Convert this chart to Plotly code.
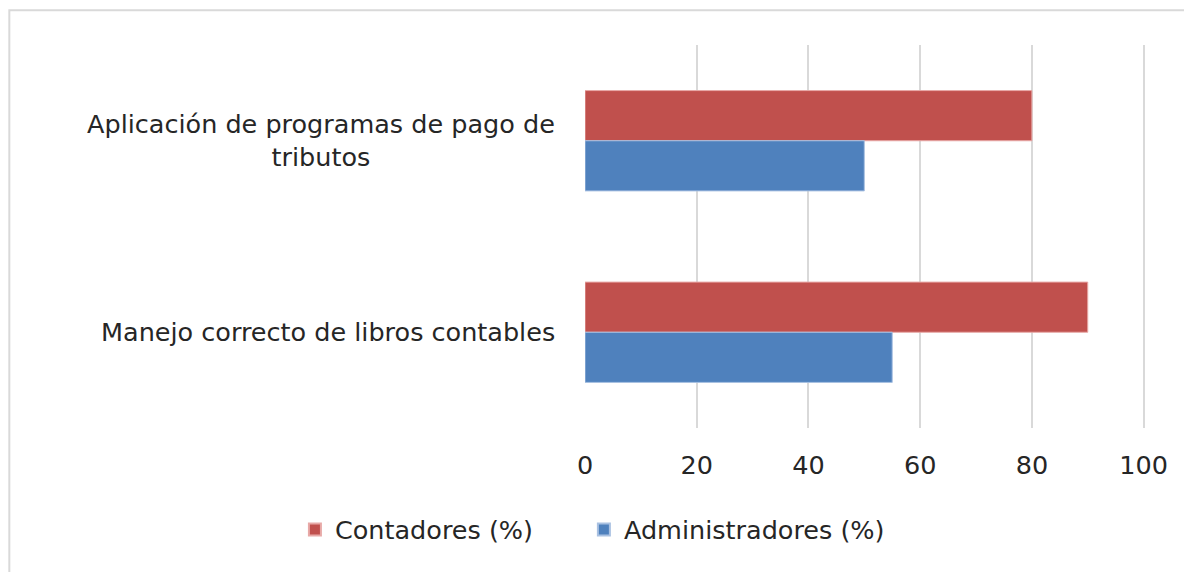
"""Horizontal grouped bar chart: Contadores vs Administradores."""

import plotly.graph_objects as go

categories = [
    "Aplicación de programas de pago de<br>tributos",
    "Manejo correcto de libros contables",
]
contadores = [80, 90]
administradores = [50, 55]
x_ticks = [0, 20, 40, 60, 80, 100]

RED = "#C0504D"
BLUE = "#4F81BD"
FONT = "DejaVu Sans"
TEXT = "#262626"
SIZE = 25.5

fig = go.Figure()
fig.add_trace(
    go.Bar(
        y=categories,
        x=contadores,
        orientation="h",
        name="Contadores (%)",
        legend="legend",
        marker=dict(color=RED, line=dict(color="#E8A9A7", width=1)),
    )
)
fig.add_trace(
    go.Bar(
        y=categories,
        x=administradores,
        orientation="h",
        name="Administradores (%)",
        legend="legend2",
        marker=dict(color=BLUE, line=dict(color="#A9C1E2", width=1)),
    )
)

# category labels as annotations so two-line labels stay centred
for cat in categories:
    fig.add_annotation(
        x=-0.05,
        xref="paper",
        y=cat,
        yref="y",
        text=cat,
        showarrow=False,
        xanchor="right",
        yanchor="middle",
        align="center",
        font=dict(family=FONT, size=SIZE, color=TEXT),
    )

# outer chart border
fig.add_shape(
    type="rect",
    xref="paper",
    yref="paper",
    x0=-1.028,
    x1=1.15,
    y0=-0.45,
    y1=1.091,
    line=dict(color="#D9D9D9", width=2),
    fillcolor="rgba(0,0,0,0)",
    layer="below",
)

legend_style = dict(
    orientation="h",
    xanchor="left",
    y=-0.266,
    yanchor="middle",
    font=dict(family=FONT, size=SIZE, color=TEXT),
    itemsizing="constant",
    bgcolor="rgba(0,0,0,0)",
)

fig.update_layout(
    width=1192,
    height=572,
    margin=dict(l=577, r=55, t=37, b=152),
    paper_bgcolor="white",
    plot_bgcolor="white",
    barmode="group",
    bargap=0.476,
    bargroupgap=0,
    font=dict(family=FONT, size=SIZE, color=TEXT),
    xaxis=dict(
        range=[0, 100.25],
        tickvals=x_ticks,
        showgrid=True,
        gridcolor="#D9D9D9",
        gridwidth=2,
        zeroline=False,
        showline=False,
        ticks="",
        ticklabelstandoff=19,
        tickfont=dict(family=FONT, size=SIZE, color=TEXT),
    ),
    yaxis=dict(
        autorange="reversed",
        showticklabels=False,
        showgrid=False,
        zeroline=False,
        showline=False,
    ),
    legend=dict(x=-0.518, **legend_style),
    legend2=dict(x=-0.002, **legend_style),
    showlegend=True,
)

fig.write_html("out.html")
